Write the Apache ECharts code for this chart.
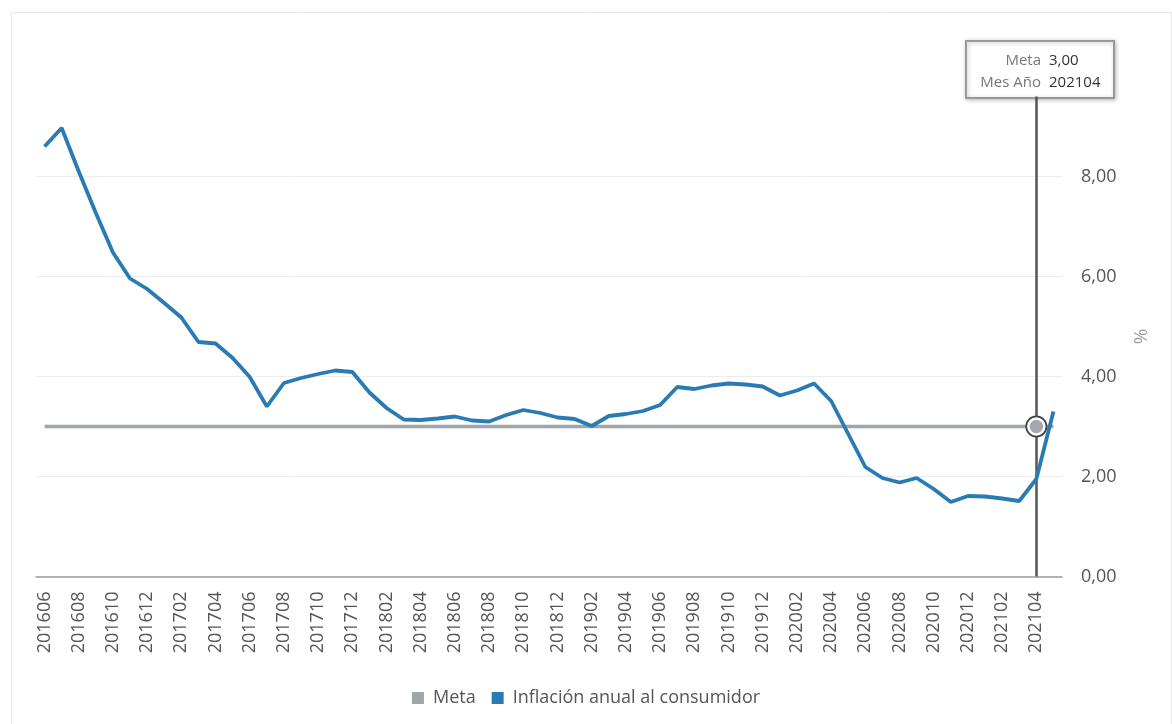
<!DOCTYPE html>
<html>
<head>
<meta charset="utf-8">
<script src="https://cdn.jsdelivr.net/npm/echarts@6/dist/echarts.min.js"></script>
<style>
html,body{margin:0;padding:0;background:#fff;}
#c{width:1172px;height:724px;}
</style>
</head>
<body>
<div id="c"></div>
<script>
var categories = [
'201606','201607','201608','201609','201610','201611','201612',
'201701','201702','201703','201704','201705','201706','201707','201708','201709','201710','201711','201712',
'201801','201802','201803','201804','201805','201806','201807','201808','201809','201810','201811','201812',
'201901','201902','201903','201904','201905','201906','201907','201908','201909','201910','201911','201912',
'202001','202002','202003','202004','202005','202006','202007','202008','202009','202010','202011','202012',
'202101','202102','202103','202104','202105'];
var inflacion = [
8.60,8.97,8.10,7.27,6.48,5.96,5.75,
5.47,5.18,4.69,4.66,4.37,3.99,3.40,3.87,3.97,4.05,4.12,4.09,
3.68,3.37,3.14,3.13,3.16,3.20,3.12,3.10,3.23,3.33,3.27,3.18,
3.15,3.01,3.21,3.25,3.31,3.43,3.79,3.75,3.82,3.86,3.84,3.80,
3.62,3.72,3.86,3.51,2.85,2.19,1.97,1.88,1.97,1.75,1.49,1.61,
1.60,1.56,1.51,1.95,3.30];
var meta = [
3,3,3,3,3,3,3,
3,3,3,3,3,3,3,3,3,3,3,3,
3,3,3,3,3,3,3,3,3,3,3,3,
3,3,3,3,3,3,3,3,3,3,3,3,
3,3,3,3,3,3,3,3,3,3,3,3,
3,3,3,3,3];
var yTicks = [0, 2, 4, 6, 8];
var highlightCat = '202104';
var highlightMeta = '3,00';

var FONT = '"Open Sans", "Noto Sans", sans-serif';
var chart = echarts.init(document.getElementById('c'), null, {renderer:'canvas'});
function fmt(v){ return v.toFixed(2).replace('.', ','); }

var option = {
  animation: false,
  backgroundColor: '#fff',
  textStyle: {fontFamily: FONT},
  grid: {left: 36, right: 110, top: 96.5, bottom: 147.5, containLabel: false},
  legend: {
    bottom: 12, left: 'center',
    itemWidth: 12, itemHeight: 12, itemGap: 16,
    icon: 'rect',
    textStyle: {fontFamily: FONT, fontSize: 18, color: '#555', padding: [0,0,0,4]},
    data: ['Meta', 'Inflación anual al consumidor']
  },
  xAxis: {
    type: 'category',
    data: categories,
    boundaryGap: true,
    axisLine: {show: true, lineStyle: {color: '#999', width: 1.5}},
    axisTick: {show: false},
    axisLabel: {rotate: 90, interval: 1, margin: 15, fontSize: 18, color: '#555', fontFamily: FONT},
    splitLine: {show: false}
  },
  yAxis: {
    type: 'value',
    position: 'right',
    min: 0, max: 9.6, interval: 2,
    name: '%',
    nameLocation: 'middle',
    nameGap: 70,
    nameTextStyle: {fontSize: 19, color: '#999', fontFamily: FONT},
    axisLine: {show: false},
    axisTick: {show: false},
    axisLabel: {margin: 19, fontSize: 18, color: '#555', fontFamily: FONT, showMaxLabel: false,
      formatter: function(v){ return yTicks.indexOf(v) >= 0 ? fmt(v) : ''; }},
    splitLine: {show: true, showMaxLine: false, showMinLine: false, lineStyle: {color: '#ececec', width: 1}}
  },
  series: [
    {
      name: 'Meta', type: 'line', data: meta,
      color: '#a0a4ab',
      showSymbol: false, symbol: 'none',
      lineStyle: {color: '#a0a4ab', width: 3.5},
      z: 2,
      markPoint: {
        silent: true, animation: false,
        label: {show: false},
        data: [
          {coord: [highlightCat, 3], symbol: 'circle', symbolSize: 22, itemStyle: {color: '#444'}},
          {coord: [highlightCat, 3], symbol: 'circle', symbolSize: 16, itemStyle: {color: '#a5a8ae', borderColor: '#fff', borderWidth: 2.5}}
        ],
        z: 10
      }
    },
    {
      name: 'Inflación anual al consumidor', type: 'line', data: inflacion,
      color: '#2a7bb4',
      showSymbol: false, symbol: 'none',
      lineStyle: {color: '#2a7bb4', width: 3.8},
      z: 3,
      markLine: {
        silent: true, symbol: 'none', animation: false,
        label: {show: false},
        lineStyle: {color: '#555', width: 2.5, type: 'solid'},
        data: [{xAxis: highlightCat}],
        z: 1
      }
    }
  ],
  graphic: [
    {type: 'rect', left: 9, top: 10, z: -1, silent: true,
      shape: {width: 1160, height: 712},
      style: {fill: 'none', stroke: '#e8e8e8', lineWidth: 1}},
    {type: 'group', left: 965, top: 40, z: 100, children: [
      {type: 'rect', shape: {x: 0, y: 0, width: 148, height: 57},
        style: {fill: '#fff', stroke: '#999', lineWidth: 2, shadowBlur: 4, shadowColor: 'rgba(0,0,0,0.25)', shadowOffsetX: 1, shadowOffsetY: 1}},
      {type: 'text', x: 75, y: 20, style: {text: 'Meta', align: 'right', verticalAlign: 'middle', fill: '#777', font: '15px "Open Sans", sans-serif'}},
      {type: 'text', x: 83, y: 20, style: {text: highlightMeta, align: 'left', verticalAlign: 'middle', fill: '#333', font: '15px "Open Sans", sans-serif'}},
      {type: 'text', x: 75, y: 42, style: {text: 'Mes Año', align: 'right', verticalAlign: 'middle', fill: '#777', font: '15px "Open Sans", sans-serif'}},
      {type: 'text', x: 83, y: 42, style: {text: highlightCat, align: 'left', verticalAlign: 'middle', fill: '#333', font: '15px "Open Sans", sans-serif'}}
    ]}
  ]
};
chart.setOption(option);
</script>
</body>
</html>
